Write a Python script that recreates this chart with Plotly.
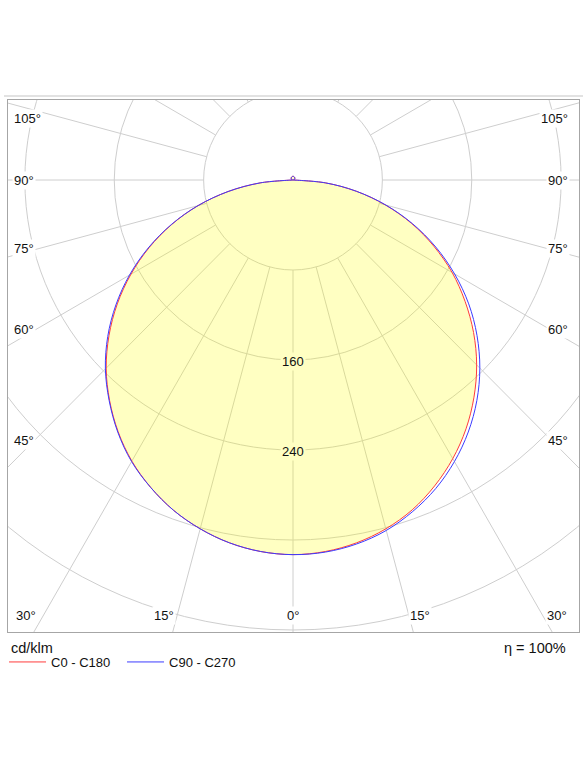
import numpy as np
import plotly.graph_objects as go

# ---------------- data ----------------
gamma = [0, 5, 10, 15, 20, 25, 30, 35, 40, 45, 50, 55, 60, 65, 70, 75, 80, 85, 90,
         95, 100, 105, 110, 115, 120, 125, 130, 135, 140, 145, 150, 155, 160, 165, 170, 175, 180]
uplight = [0.3, 0.6, 0.8, 1.1, 1.4, 1.6, 1.8, 2.1, 2.3, 2.4, 2.6, 2.8, 2.9, 3.0, 3.1, 3.2, 3.2, 3.2]
c0 = [333, 331.5, 327.5, 321, 312, 300, 286, 270, 252, 232.5, 211, 188, 164.5, 139, 113, 85.5, 57.5, 29, 0.5] + uplight
c180 = [333, 331.5, 327.5, 321, 312.5, 301.5, 288.5, 273, 255.5, 236.5, 215, 192, 167.5, 142, 115.5, 88, 59, 29.5, 0.5] + uplight
c90 = [333, 332, 328.5, 322.5, 313.5, 302.5, 289, 273.5, 256, 236.5, 215, 192, 167, 141, 114, 86, 57.5, 29, 0.5] + uplight
c270 = [333, 331.5, 327.5, 321, 312.5, 301.5, 289, 273.5, 256, 237.5, 216.5, 193.5, 169, 143, 116, 88, 59, 29.5, 0.5] + uplight

series_names = ["C0 - C180", "C90 - C270"]
grid_radii = [80, 160, 240, 320, 400]
grid_angles = list(range(0, 360, 15))
radius_labels = ["160", "240"]
side_labels = ["105°", "90°", "75°", "60°", "45°"]
bottom_labels = ["30°", "15°", "0°", "15°", "30°"]
unit_text = "cd/klm"
eff_text = "η = 100%"

# ---------------- layout constants (pixels) ----------------
W, H = 583, 777
CX, CY = 291, 180          # pole of the diagram
S = 1.125                  # px per cd/klm
FL, FR, FT, FB = 4, 579, 100, 632   # frame
RULE_Y = 96
FONT = "Liberation Sans, Arial, sans-serif"
GRID = "#cecece"
FILL = "rgba(255,255,0,0.24)"
FILL_SOLID = "rgb(255,255,194)"
RED = "#ff3b3b"
BLUE = "#3b3bff"


def dx(px):
    return (px - CX) / S


def dy(py):
    return (CY - py) / S


def px_paper(px):
    return (px - FL) / (FR - FL)


def py_paper(py):
    return (FB - py) / (FB - FT)


def plane_xy(right, left):
    g = np.array(gamma, dtype=float)
    th = np.concatenate([g, -g[::-1][1:]])
    r = np.concatenate([np.array(right, float), np.array(left, float)[::-1][1:]])
    t = np.radians(th)
    return r * np.sin(t), -r * np.cos(t)


x_red, y_red = plane_xy(c0, c180)
x_blue, y_blue = plane_xy(c90, c270)

fig = go.Figure()
fig.add_trace(go.Scatter(x=x_red, y=y_red, mode="lines", line=dict(width=0, color=FILL, shape="spline"),
                         fill="toself", fillcolor=FILL, showlegend=False, hoverinfo="skip"))
fig.add_trace(go.Scatter(x=x_red, y=y_red, mode="lines", name=series_names[0],
                         line=dict(color=RED, width=1, shape="spline")))
fig.add_trace(go.Scatter(x=x_blue, y=y_blue, mode="lines", name=series_names[1],
                         line=dict(color=BLUE, width=1, shape="spline")))

shapes = []
for r in grid_radii:
    shapes.append(dict(type="circle", xref="x", yref="y", x0=-r, x1=r, y0=-r, y1=r,
                       line=dict(color=GRID, width=1), layer="below"))
r_in, r_out = grid_radii[0], 900
for a in grid_angles:
    t = np.radians(a)
    shapes.append(dict(type="line", xref="x", yref="y",
                       x0=r_in * np.sin(t), y0=-r_in * np.cos(t),
                       x1=r_out * np.sin(t), y1=-r_out * np.cos(t),
                       line=dict(color=GRID, width=1), layer="below"))
# light rule above the frame
shapes.append(dict(type="line", xref="paper", yref="paper",
                   x0=px_paper(0), x1=px_paper(W), y0=py_paper(RULE_Y), y1=py_paper(RULE_Y),
                   line=dict(color="#e2e2e2", width=2)))

ann = []
lab_font = dict(family=FONT, size=13, color="#111")
side_y = [118, 180, 248, 329, 440]
for txt, py in zip(side_labels, side_y):
    ann.append(dict(x=dx(8), y=dy(py), text=txt, xanchor="left", yanchor="middle",
                    showarrow=False, bgcolor="white", borderpad=1, font=lab_font))
    ann.append(dict(x=dx(570), y=dy(py), text=txt, xanchor="right", yanchor="middle",
                    showarrow=False, bgcolor="white", borderpad=1, font=lab_font))
bottom_x = [10, 161, 291, 419, 569]
bottom_anchor = ["left", "center", "center", "center", "right"]
for txt, px, xa in zip(bottom_labels, bottom_x, bottom_anchor):
    ann.append(dict(x=dx(px), y=dy(615), text=txt, xanchor=xa, yanchor="middle",
                    showarrow=False, bgcolor="white", borderpad=1, font=lab_font))
for txt in radius_labels:
    v = float(txt)
    ann.append(dict(x=0, y=-v - 1.5 / S, text=txt, xanchor="center", yanchor="middle",
                    showarrow=False, bgcolor=FILL_SOLID, borderpad=1, font=lab_font))
ann.append(dict(xref="paper", yref="paper", x=px_paper(5), y=py_paper(648), text=unit_text,
                xanchor="left", yanchor="middle", showarrow=False,
                font=dict(family=FONT, size=14.5, color="#111")))
ann.append(dict(xref="paper", yref="paper", x=px_paper(568), y=py_paper(648), text=eff_text,
                xanchor="right", yanchor="middle", showarrow=False,
                font=dict(family=FONT, size=14.5, color="#111")))

fig.update_layout(
    width=W, height=H,
    margin=dict(l=FL, r=W - FR, t=FT, b=H - FB, pad=0),
    paper_bgcolor="white", plot_bgcolor="white",
    shapes=shapes, annotations=ann,
    showlegend=True,
    legend=dict(orientation="h", x=px_paper(0), xanchor="left",
                y=py_paper(647), yanchor="top",
                font=dict(family=FONT, size=13, color="#111"),
                itemwidth=37, entrywidth=66, entrywidthmode="pixels",
                bgcolor="rgba(0,0,0,0)", borderwidth=0),
    xaxis=dict(range=[dx(FL), dx(FR)], showgrid=False, zeroline=False, showticklabels=False,
               ticks="", showline=True, mirror=True, linecolor="#a6a6a6", linewidth=1,
               fixedrange=True),
    yaxis=dict(range=[dy(FB), dy(FT)], showgrid=False, zeroline=False, showticklabels=False,
               ticks="", showline=True, mirror=True, linecolor="#a6a6a6", linewidth=1,
               fixedrange=True),
)

fig.write_html("out.html")
